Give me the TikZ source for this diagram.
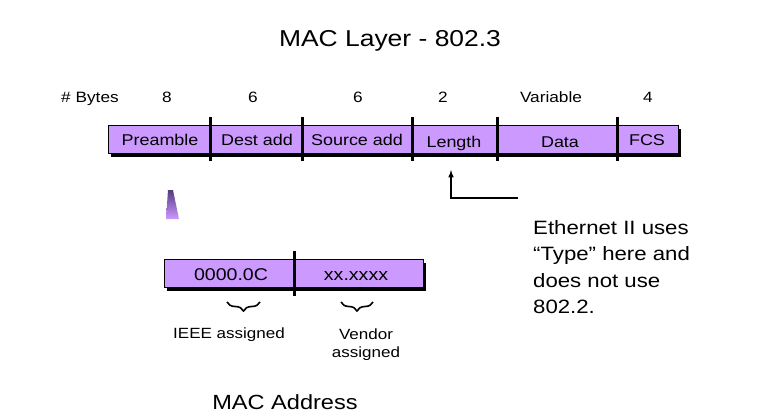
\documentclass[tikz,border=0pt]{standalone}
\usepackage{fontspec}
\setmainfont{Liberation Sans}[FakeStretch=1.15]
\usetikzlibrary{shadows,decorations.pathreplacing}
\definecolor{lilac}{HTML}{CC99FF}
\definecolor{plum}{HTML}{563A80}

\begin{document}
\begin{tikzpicture}[x=1pt,y=-1pt,
  field/.style={draw=black,line width=0.8pt,fill=lilac,inner sep=0pt,
    drop shadow={shadow xshift=3pt,shadow yshift=-3.5pt,fill=black,opacity=1}},
  sep/.style={line width=3pt},
  txt/.style={anchor=base,inner sep=0pt}]
\useasboundingbox (0,0) rectangle (767,418);

\node[txt,font=\fontsize{23}{27}\selectfont] (title) at (390,46) {MAC Layer - 802.3};

% byte counts
\node[txt,font=\fontsize{15}{18}\selectfont] (bytes) at (90,102) {\# Bytes};
\node[txt,font=\fontsize{15}{18}\selectfont] (n1) at (167,102) {8};
\node[txt,font=\fontsize{15}{18}\selectfont] (n2) at (253,102) {6};
\node[txt,font=\fontsize{15}{18}\selectfont] (n3) at (358,102) {6};
\node[txt,font=\fontsize{15}{18}\selectfont] (n4) at (443,102) {2};
\node[txt,font=\fontsize{15}{18}\selectfont] (n5) at (551,102) {Variable};
\node[txt,font=\fontsize{15}{18}\selectfont] (n6) at (648,102) {4};

% frame
\node[field,minimum width=570pt,minimum height=28pt] (frame) at (393,139) {};
\draw[sep] (210,117) -- (210,161);
\draw[sep] (302,117) -- (302,161);
\draw[sep] (412,117) -- (412,161);
\draw[sep] (497,117) -- (497,161);
\draw[sep] (617,117) -- (617,161);
\node[txt,font=\fontsize{15.6}{18}\selectfont] (pre) at (160,145) {Preamble};
\node[txt,font=\fontsize{15.6}{18}\selectfont] (dst) at (257,145) {Dest add};
\node[txt,font=\fontsize{15.6}{18}\selectfont] (src) at (357,145) {Source add};
\node[txt,font=\fontsize{15.6}{18}\selectfont] (len) at (454,147) {Length};
\node[txt,font=\fontsize{15.6}{18}\selectfont] (dat) at (560,147) {Data};
\node[txt,font=\fontsize{15.6}{18}\selectfont] (fcs) at (647,145) {FCS};

% type note
\coordinate (lenmark) at (451,170);
\coordinate (noteend) at (518,198);
\draw[line width=1.5pt,-latex] (noteend) -| (lenmark);
\node[anchor=north west,inner sep=0pt,align=left,font=\fontsize{19.3}{26.5}\selectfont] (note) at (533,220)
  {Ethernet II uses\\``Type'' here and\\does not use\\802.2.};

% zoom marker
\shade[top color=plum,bottom color=lilac] (168,190) -- (173,190) -- (179,219) -- (166,219) -- cycle;

% address
\node[field,minimum width=259pt,minimum height=28pt] (addr) at (293.5,273) {};
\draw[sep] (294,251) -- (294,296);
\node[txt,font=\fontsize{17}{20}\selectfont] (oui) at (231,280) {0000.0C};
\node[txt,font=\fontsize{17}{20}\selectfont] (nic) at (356,280) {xx.xxxx};
\draw[line width=1.6pt,decorate,decoration={brace,mirror,amplitude=9pt}] (227,302) -- (260,302);
\draw[line width=1.6pt,decorate,decoration={brace,mirror,amplitude=9pt}] (341,302) -- (373,302);
\node[txt,font=\fontsize{14.8}{18}\selectfont] (ieee) at (229,338) {IEEE assigned};
\node[anchor=north,inner sep=0pt,align=center,font=\fontsize{14.8}{18}\selectfont] (vendor) at (366,329) {Vendor\\assigned};
\node[txt,font=\fontsize{20.5}{24}\selectfont] (macaddr) at (285,409) {MAC Address};
\end{tikzpicture}
\end{document}
